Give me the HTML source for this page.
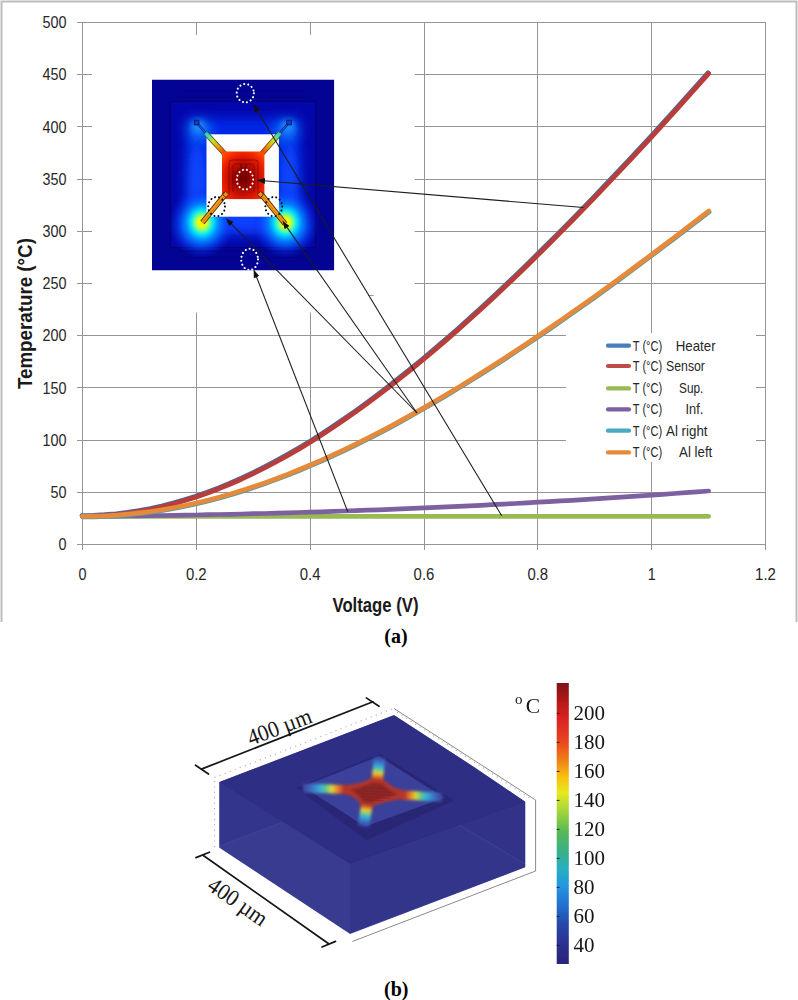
<!DOCTYPE html>
<html><head><meta charset="utf-8">
<style>
html,body{margin:0;padding:0;background:#fff;}
body{width:798px;height:1000px;overflow:hidden;font-family:"Liberation Sans",sans-serif;}
svg{display:block;}
.ax text{font-family:"Liberation Sans",sans-serif;font-size:15.6px;fill:#262626;}
.lg text{font-family:"Liberation Sans",sans-serif;font-size:14.4px;fill:#262626;}
.ser{font-family:"Liberation Serif",serif;}
</style></head><body>
<svg width="798" height="1000" viewBox="0 0 798 1000">
<defs>

<filter id="b3" x="-30%" y="-30%" width="160%" height="160%"><feGaussianBlur stdDeviation="3"/></filter>
<filter id="b6" x="-30%" y="-30%" width="160%" height="160%"><feGaussianBlur stdDeviation="6"/></filter>
<filter id="b1" x="-10%" y="-10%" width="120%" height="120%"><feGaussianBlur stdDeviation="0.6"/></filter>
<filter id="b05" x="-10%" y="-10%" width="120%" height="120%"><feGaussianBlur stdDeviation="0.45"/></filter>
<radialGradient id="hot" cx="0.5" cy="0.5" r="0.5">
<stop offset="0" stop-color="#fff000"/><stop offset="0.13" stop-color="#e8ff10"/><stop offset="0.24" stop-color="#60ffa0"/><stop offset="0.36" stop-color="#00d8ff"/><stop offset="0.52" stop-color="#0088ff" stop-opacity="0.85"/><stop offset="0.75" stop-color="#0848ff" stop-opacity="0.45"/><stop offset="1" stop-color="#0428e6" stop-opacity="0"/>
</radialGradient>
<radialGradient id="warm" cx="0.5" cy="0.5" r="0.5">
<stop offset="0" stop-color="#20b0ff"/><stop offset="0.5" stop-color="#0868ff" stop-opacity="0.8"/><stop offset="1" stop-color="#0030ff" stop-opacity="0"/>
</radialGradient>
<radialGradient id="mem" cx="0.5" cy="0.56" r="0.66">
<stop offset="0" stop-color="#740000"/><stop offset="0.3" stop-color="#980400"/><stop offset="0.55" stop-color="#cc1000"/><stop offset="0.8" stop-color="#f02400"/><stop offset="1" stop-color="#ff4800"/>
</radialGradient>
<linearGradient id="btl" gradientUnits="userSpaceOnUse" x1="224" y1="153" x2="204" y2="131">
<stop offset="0" stop-color="#f04000"/><stop offset="0.3" stop-color="#f0a000"/><stop offset="0.55" stop-color="#c8e020"/><stop offset="0.8" stop-color="#30e0c0"/><stop offset="1" stop-color="#10b0f0"/>
</linearGradient>
<linearGradient id="btr" gradientUnits="userSpaceOnUse" x1="263" y1="153" x2="282" y2="131">
<stop offset="0" stop-color="#f04000"/><stop offset="0.3" stop-color="#f0a000"/><stop offset="0.55" stop-color="#c8e020"/><stop offset="0.8" stop-color="#30e0c0"/><stop offset="1" stop-color="#10b0f0"/>
</linearGradient>
<clipPath id="insclip"><rect x="152" y="79.5" width="182.3" height="191"/></clipPath>

<linearGradient id="jet" x1="0" y1="0" x2="0" y2="1">
<stop offset="0" stop-color="#7a1414"/>
<stop offset="0.06" stop-color="#b01818"/>
<stop offset="0.12" stop-color="#d82020"/>
<stop offset="0.2" stop-color="#e84020"/>
<stop offset="0.27" stop-color="#f07a18"/>
<stop offset="0.335" stop-color="#f8c010"/>
<stop offset="0.39" stop-color="#e8e820"/>
<stop offset="0.45" stop-color="#a8d838"/>
<stop offset="0.53" stop-color="#58b858"/>
<stop offset="0.6" stop-color="#38b088"/>
<stop offset="0.66" stop-color="#28b0c0"/>
<stop offset="0.72" stop-color="#2098e0"/>
<stop offset="0.79" stop-color="#2070d0"/>
<stop offset="0.86" stop-color="#2848a8"/>
<stop offset="0.93" stop-color="#2a3090"/>
<stop offset="1" stop-color="#2a2478"/>
</linearGradient>
<filter id="b08" x="-10%" y="-10%" width="120%" height="120%"><feGaussianBlur stdDeviation="0.7"/></filter>
<filter id="b15" x="-20%" y="-20%" width="140%" height="140%"><feGaussianBlur stdDeviation="1.6"/></filter>
<linearGradient id="armT" gradientUnits="userSpaceOnUse" x1="377" y1="781" x2="379.7" y2="757.5">
<stop offset="0" stop-color="#c03a28"/><stop offset="0.1" stop-color="#c84428"/><stop offset="0.22" stop-color="#e88828"/><stop offset="0.35" stop-color="#dcd838"/><stop offset="0.47" stop-color="#64c888"/><stop offset="0.6" stop-color="#38b0d8"/><stop offset="0.83" stop-color="#3c68c0"/><stop offset="1" stop-color="#3a449c"/>
</linearGradient>
<linearGradient id="armB" gradientUnits="userSpaceOnUse" x1="367" y1="803" x2="363.8" y2="826">
<stop offset="0" stop-color="#c03a28"/><stop offset="0.1" stop-color="#c84428"/><stop offset="0.22" stop-color="#e88828"/><stop offset="0.35" stop-color="#dcd838"/><stop offset="0.47" stop-color="#64c888"/><stop offset="0.6" stop-color="#38b0d8"/><stop offset="0.83" stop-color="#3c68c0"/><stop offset="1" stop-color="#3a449c"/>
</linearGradient>
<linearGradient id="armL" gradientUnits="userSpaceOnUse" x1="347" y1="789.6" x2="303" y2="788">
<stop offset="0" stop-color="#c03a28"/><stop offset="0.1" stop-color="#c84428"/><stop offset="0.22" stop-color="#e88828"/><stop offset="0.35" stop-color="#dcd838"/><stop offset="0.47" stop-color="#64c888"/><stop offset="0.6" stop-color="#38b0d8"/><stop offset="0.83" stop-color="#3c68c0"/><stop offset="1" stop-color="#3a449c"/>
</linearGradient>
<linearGradient id="armR" gradientUnits="userSpaceOnUse" x1="402" y1="795" x2="442" y2="797.3">
<stop offset="0" stop-color="#c03a28"/><stop offset="0.1" stop-color="#c84428"/><stop offset="0.22" stop-color="#e88828"/><stop offset="0.35" stop-color="#dcd838"/><stop offset="0.47" stop-color="#64c888"/><stop offset="0.6" stop-color="#38b0d8"/><stop offset="0.83" stop-color="#3c68c0"/><stop offset="1" stop-color="#3a449c"/>
</linearGradient>
<!--DEFS-->
</defs>
<rect width="798" height="1000" fill="#fff"/>
<!-- chart frame -->
<path d="M1.5,622 L1.5,1.5 L796.5,1.5 L796.5,622" fill="none" stroke="#bdbdbd" stroke-width="2"/>
<g stroke="#959595" stroke-width="1" fill="none" shape-rendering="crispEdges">
<line x1="77" y1="544.5" x2="765.5" y2="544.5"/>
<line x1="77" y1="492.3" x2="765.5" y2="492.3"/>
<line x1="77" y1="440.1" x2="765.5" y2="440.1"/>
<line x1="77" y1="387.9" x2="765.5" y2="387.9"/>
<line x1="77" y1="335.7" x2="765.5" y2="335.7"/>
<line x1="77" y1="283.5" x2="765.5" y2="283.5"/>
<line x1="77" y1="231.3" x2="765.5" y2="231.3"/>
<line x1="77" y1="179.1" x2="765.5" y2="179.1"/>
<line x1="77" y1="126.9" x2="765.5" y2="126.9"/>
<line x1="77" y1="74.7" x2="765.5" y2="74.7"/>
<line x1="77" y1="22.5" x2="765.5" y2="22.5"/>
<line x1="82.5" y1="22.5" x2="82.5" y2="550"/>
<line x1="196.3" y1="22.5" x2="196.3" y2="550"/>
<line x1="310.2" y1="22.5" x2="310.2" y2="550"/>
<line x1="424.0" y1="22.5" x2="424.0" y2="550"/>
<line x1="537.8" y1="22.5" x2="537.8" y2="550"/>
<line x1="651.7" y1="22.5" x2="651.7" y2="550"/>
<line x1="765.5" y1="22.5" x2="765.5" y2="550"/>
</g>
<!-- white cover for picture and legend -->
<rect x="92" y="35" width="322.6" height="277.5" fill="#fff"/>
<rect x="566" y="333" width="190" height="129" fill="#fff"/>
<line x1="368" y1="295.5" x2="373.6" y2="295.5" stroke="#999" stroke-width="1"/>
<!-- curves -->
<g fill="none" stroke-linecap="round" stroke-linejoin="round" stroke-width="4.7">
<path d="M82.5,516.3 L93.9,516.1 L105.3,515.5 L116.7,514.6 L128.0,513.2 L139.4,511.4 L150.8,509.3 L162.2,506.8 L173.6,503.9 L184.9,500.6 L196.3,497.0 L207.7,493.0 L219.1,488.7 L230.5,484.0 L241.9,479.0 L253.2,473.6 L264.6,468.0 L276.0,462.0 L287.4,455.7 L298.8,449.1 L310.2,442.2 L321.6,435.0 L332.9,427.6 L344.3,419.8 L355.7,411.9 L367.1,403.6 L378.5,395.1 L389.9,386.4 L401.2,377.5 L412.6,368.3 L424.0,359.0 L435.4,349.4 L446.8,339.6 L458.2,329.7 L469.5,319.5 L480.9,309.2 L492.3,298.7 L503.7,288.0 L515.1,277.2 L526.5,266.2 L537.8,255.1 L549.2,243.8 L560.6,232.4 L572.0,220.9 L583.4,209.2 L594.8,197.4 L606.1,185.5 L617.5,173.5 L628.9,161.3 L640.3,149.1 L651.7,136.8 L663.0,124.3 L674.4,111.8 L685.8,99.1 L697.2,86.4 L708.6,73.6" stroke="#4a6a9c" transform="translate(-0.6,-0.8)"/>
<path d="M82.5,516.3 L93.9,516.1 L105.3,515.5 L116.7,514.6 L128.0,513.2 L139.4,511.4 L150.8,509.3 L162.2,506.8 L173.6,503.9 L184.9,500.6 L196.3,497.0 L207.7,493.0 L219.1,488.7 L230.5,484.0 L241.9,479.0 L253.2,473.6 L264.6,468.0 L276.0,462.0 L287.4,455.7 L298.8,449.1 L310.2,442.2 L321.6,435.0 L332.9,427.6 L344.3,419.8 L355.7,411.9 L367.1,403.6 L378.5,395.1 L389.9,386.4 L401.2,377.5 L412.6,368.3 L424.0,359.0 L435.4,349.4 L446.8,339.6 L458.2,329.7 L469.5,319.5 L480.9,309.2 L492.3,298.7 L503.7,288.0 L515.1,277.2 L526.5,266.2 L537.8,255.1 L549.2,243.8 L560.6,232.4 L572.0,220.9 L583.4,209.2 L594.8,197.4 L606.1,185.5 L617.5,173.5 L628.9,161.3 L640.3,149.1 L651.7,136.8 L663.0,124.3 L674.4,111.8 L685.8,99.1 L697.2,86.4 L708.6,73.6" stroke="#b93e3a"/>
<path d="M82.5,516.3 L93.9,516.3 L105.3,516.3 L116.7,516.3 L128.0,516.3 L139.4,516.3 L150.8,516.3 L162.2,516.3 L173.6,516.3 L184.9,516.3 L196.3,516.3 L207.7,516.3 L219.1,516.3 L230.5,516.3 L241.9,516.3 L253.2,516.3 L264.6,516.3 L276.0,516.3 L287.4,516.3 L298.8,516.3 L310.2,516.3 L321.6,516.3 L332.9,516.3 L344.3,516.3 L355.7,516.3 L367.1,516.3 L378.5,516.3 L389.9,516.3 L401.2,516.3 L412.6,516.3 L424.0,516.3 L435.4,516.3 L446.8,516.3 L458.2,516.3 L469.5,516.3 L480.9,516.3 L492.3,516.3 L503.7,516.3 L515.1,516.3 L526.5,516.3 L537.8,516.3 L549.2,516.3 L560.6,516.3 L572.0,516.3 L583.4,516.3 L594.8,516.3 L606.1,516.3 L617.5,516.3 L628.9,516.3 L640.3,516.3 L651.7,516.3 L663.0,516.3 L674.4,516.3 L685.8,516.3 L697.2,516.3 L708.6,516.3" stroke="#98b954"/>
<path d="M82.5,516.3 L93.9,516.2 L105.3,516.2 L116.7,516.1 L128.0,515.9 L139.4,515.8 L150.8,515.7 L162.2,515.5 L173.6,515.3 L184.9,515.2 L196.3,515.0 L207.7,514.7 L219.1,514.5 L230.5,514.3 L241.9,514.0 L253.2,513.7 L264.6,513.5 L276.0,513.2 L287.4,512.8 L298.8,512.5 L310.2,512.2 L321.6,511.8 L332.9,511.4 L344.3,511.0 L355.7,510.6 L367.1,510.2 L378.5,509.8 L389.9,509.4 L401.2,508.9 L412.6,508.4 L424.0,507.9 L435.4,507.4 L446.8,506.9 L458.2,506.4 L469.5,505.8 L480.9,505.3 L492.3,504.7 L503.7,504.1 L515.1,503.5 L526.5,502.9 L537.8,502.2 L549.2,501.6 L560.6,500.9 L572.0,500.3 L583.4,499.6 L594.8,498.9 L606.1,498.1 L617.5,497.4 L628.9,496.7 L640.3,495.9 L651.7,495.1 L663.0,494.3 L674.4,493.5 L685.8,492.7 L697.2,491.9 L708.6,491.0" stroke="#7d60a0"/>
<path d="M82.5,516.3 L93.9,516.2 L105.3,515.8 L116.7,515.1 L128.0,514.1 L139.4,512.9 L150.8,511.5 L162.2,509.7 L173.6,507.7 L184.9,505.5 L196.3,503.0 L207.7,500.2 L219.1,497.2 L230.5,494.0 L241.9,490.5 L253.2,486.8 L264.6,482.9 L276.0,478.7 L287.4,474.4 L298.8,469.8 L310.2,465.0 L321.6,460.1 L332.9,454.9 L344.3,449.6 L355.7,444.1 L367.1,438.4 L378.5,432.6 L389.9,426.6 L401.2,420.4 L412.6,414.1 L424.0,407.6 L435.4,401.0 L446.8,394.3 L458.2,387.4 L469.5,380.4 L480.9,373.3 L492.3,366.0 L503.7,358.7 L515.1,351.2 L526.5,343.7 L537.8,336.0 L549.2,328.3 L560.6,320.4 L572.0,312.4 L583.4,304.4 L594.8,296.3 L606.1,288.1 L617.5,279.8 L628.9,271.5 L640.3,263.0 L651.7,254.5 L663.0,246.0 L674.4,237.4 L685.8,228.7 L697.2,219.9 L708.6,211.1" stroke="#5a9aa0" transform="translate(0.5,0.7)"/>
<path d="M82.5,516.3 L93.9,516.2 L105.3,515.8 L116.7,515.1 L128.0,514.1 L139.4,512.9 L150.8,511.5 L162.2,509.7 L173.6,507.7 L184.9,505.5 L196.3,503.0 L207.7,500.2 L219.1,497.2 L230.5,494.0 L241.9,490.5 L253.2,486.8 L264.6,482.9 L276.0,478.7 L287.4,474.4 L298.8,469.8 L310.2,465.0 L321.6,460.1 L332.9,454.9 L344.3,449.6 L355.7,444.1 L367.1,438.4 L378.5,432.6 L389.9,426.6 L401.2,420.4 L412.6,414.1 L424.0,407.6 L435.4,401.0 L446.8,394.3 L458.2,387.4 L469.5,380.4 L480.9,373.3 L492.3,366.0 L503.7,358.7 L515.1,351.2 L526.5,343.7 L537.8,336.0 L549.2,328.3 L560.6,320.4 L572.0,312.4 L583.4,304.4 L594.8,296.3 L606.1,288.1 L617.5,279.8 L628.9,271.5 L640.3,263.0 L651.7,254.5 L663.0,246.0 L674.4,237.4 L685.8,228.7 L697.2,219.9 L708.6,211.1" stroke="#e58a3a"/>
</g>
<g class="ax">
<text x="66.5" y="550.1" text-anchor="end" textLength="8" lengthAdjust="spacingAndGlyphs">0</text>
<text x="66.5" y="497.9" text-anchor="end" textLength="16" lengthAdjust="spacingAndGlyphs">50</text>
<text x="66.5" y="445.7" text-anchor="end" textLength="24" lengthAdjust="spacingAndGlyphs">100</text>
<text x="66.5" y="393.5" text-anchor="end" textLength="24" lengthAdjust="spacingAndGlyphs">150</text>
<text x="66.5" y="341.3" text-anchor="end" textLength="24" lengthAdjust="spacingAndGlyphs">200</text>
<text x="66.5" y="289.1" text-anchor="end" textLength="24" lengthAdjust="spacingAndGlyphs">250</text>
<text x="66.5" y="236.9" text-anchor="end" textLength="24" lengthAdjust="spacingAndGlyphs">300</text>
<text x="66.5" y="184.7" text-anchor="end" textLength="24" lengthAdjust="spacingAndGlyphs">350</text>
<text x="66.5" y="132.5" text-anchor="end" textLength="24" lengthAdjust="spacingAndGlyphs">400</text>
<text x="66.5" y="80.3" text-anchor="end" textLength="24" lengthAdjust="spacingAndGlyphs">450</text>
<text x="66.5" y="28.1" text-anchor="end" textLength="24" lengthAdjust="spacingAndGlyphs">500</text>
<text x="82.5" y="579.8" text-anchor="middle" textLength="8.0" lengthAdjust="spacingAndGlyphs">0</text>
<text x="196.3" y="579.8" text-anchor="middle" textLength="20.8" lengthAdjust="spacingAndGlyphs">0.2</text>
<text x="310.2" y="579.8" text-anchor="middle" textLength="20.8" lengthAdjust="spacingAndGlyphs">0.4</text>
<text x="424.0" y="579.8" text-anchor="middle" textLength="20.8" lengthAdjust="spacingAndGlyphs">0.6</text>
<text x="537.8" y="579.8" text-anchor="middle" textLength="20.8" lengthAdjust="spacingAndGlyphs">0.8</text>
<text x="651.7" y="579.8" text-anchor="middle" textLength="8.0" lengthAdjust="spacingAndGlyphs">1</text>
<text x="765.5" y="579.8" text-anchor="middle" textLength="20.8" lengthAdjust="spacingAndGlyphs">1.2</text>
</g>
<text x="375.5" y="612" text-anchor="middle" font-family="Liberation Sans" font-weight="bold" font-size="19.8" fill="#1a1a1a" textLength="86" lengthAdjust="spacingAndGlyphs">Voltage (V)</text>
<text transform="translate(32.3,313.6) rotate(-90)" text-anchor="middle" font-family="Liberation Sans" font-weight="bold" font-size="20.4" fill="#1a1a1a" textLength="151" lengthAdjust="spacingAndGlyphs">Temperature (°C)</text>
<g class="lg">
<line x1="608" y1="345.7" x2="629" y2="345.7" stroke="#4a7ebb" stroke-width="4.2" stroke-linecap="round"/>
<line x1="608" y1="366.0" x2="629" y2="366.0" stroke="#be4b48" stroke-width="4.2" stroke-linecap="round"/>
<line x1="608" y1="388.4" x2="629" y2="388.4" stroke="#98b954" stroke-width="4.2" stroke-linecap="round"/>
<line x1="608" y1="409.4" x2="629" y2="409.4" stroke="#7d60a0" stroke-width="4.2" stroke-linecap="round"/>
<line x1="608" y1="430.7" x2="629" y2="430.7" stroke="#46aac5" stroke-width="4.2" stroke-linecap="round"/>
<line x1="608" y1="452.4" x2="629" y2="452.4" stroke="#e58a3a" stroke-width="4.2" stroke-linecap="round"/>

<text x="632.8" y="350.6" textLength="29.4" lengthAdjust="spacingAndGlyphs">T (°C)</text><text x="675.8" y="350.6" textLength="39.8" lengthAdjust="spacingAndGlyphs">Heater</text>
<text x="632.8" y="370.9" textLength="29.4" lengthAdjust="spacingAndGlyphs">T (°C)</text><text x="666.1" y="370.9" textLength="38.8" lengthAdjust="spacingAndGlyphs">Sensor</text>
<text x="632.8" y="393.3" textLength="29.4" lengthAdjust="spacingAndGlyphs">T (°C)</text><text x="679.0" y="393.3" textLength="24.3" lengthAdjust="spacingAndGlyphs">Sup.</text>
<text x="632.8" y="414.3" textLength="29.4" lengthAdjust="spacingAndGlyphs">T (°C)</text><text x="685.5" y="414.3" textLength="17.8" lengthAdjust="spacingAndGlyphs">Inf.</text>
<text x="632.8" y="435.6" textLength="29.4" lengthAdjust="spacingAndGlyphs">T (°C)</text><text x="666.1" y="435.6" textLength="41.4" lengthAdjust="spacingAndGlyphs">Al right</text>
<text x="632.8" y="457.3" textLength="29.4" lengthAdjust="spacingAndGlyphs">T (°C)</text><text x="679.0" y="457.3" textLength="33.3" lengthAdjust="spacingAndGlyphs">Al left</text>

</g>

<g id="inset" clip-path="url(#insclip)">
<rect x="152" y="79.5" width="182.3" height="191" fill="#030394"/>
<rect x="170.5" y="101.5" width="145" height="146" fill="#0306aa" stroke="#020270" stroke-width="1"/>
<g filter="url(#b6)">
<rect x="186" y="118" width="114" height="116" fill="#0428e6"/>
<rect x="196" y="200" width="94" height="34" fill="#0840ff"/>
<ellipse cx="199" cy="130" rx="11" ry="10" fill="#1070ff"/>
<ellipse cx="287" cy="130" rx="11" ry="10" fill="#1070ff"/>
<ellipse cx="196" cy="185" rx="9" ry="42" fill="#0848ff"/>
<ellipse cx="290" cy="185" rx="9" ry="42" fill="#0848ff"/>
<ellipse cx="201" cy="228" rx="20" ry="16" fill="#0a60ff"/>
<ellipse cx="286" cy="228" rx="20" ry="16" fill="#0a60ff"/>
</g>
<g filter="url(#b3)">
<ellipse cx="198" cy="126" rx="6" ry="6" fill="#20a0ff" opacity="0.8"/>
<ellipse cx="288" cy="126" rx="6" ry="6" fill="#20a0ff" opacity="0.8"/>
</g>
<ellipse cx="202" cy="222.5" rx="33" ry="36" fill="url(#hot)"/>
<ellipse cx="285.5" cy="222.5" rx="33" ry="36" fill="url(#hot)"/>
<!-- faint horizontal stripes top and bottom -->
<g stroke="#020274" stroke-width="0.9" opacity="0.6">
<line x1="180" y1="97" x2="306" y2="97"/><line x1="180" y1="91" x2="306" y2="91"/>
<line x1="180" y1="251" x2="306" y2="251"/><line x1="180" y1="257.5" x2="306" y2="257.5"/>
</g>
<!-- white window -->
<rect x="206.5" y="134.3" width="72.4" height="82.4" fill="#fff" filter="url(#b05)"/>
<!-- beams top (outside white: thin dark outlines) -->
<g filter="url(#b05)">
<path d="M196.6,122.6 L207,134.5" stroke="#0a2a90" stroke-width="2.4" fill="none"/>
<path d="M289,122.6 L278.6,134.5" stroke="#0a2a90" stroke-width="2.4" fill="none"/>
<path d="M196.6,122.6 L207,134.5" stroke="#1a70e0" stroke-width="1" fill="none"/>
<path d="M289,122.6 L278.6,134.5" stroke="#1a70e0" stroke-width="1" fill="none"/>
<rect x="194.3" y="120.2" width="4.6" height="4.6" fill="#1040c0" stroke="#06156a" stroke-width="0.9"/>
<rect x="286.7" y="120.2" width="4.6" height="4.6" fill="#1040c0" stroke="#06156a" stroke-width="0.9"/>
<path d="M205.5,133 L224.5,153.5" stroke="#5a4a20" stroke-width="5.4" fill="none"/>
<path d="M205.5,133 L224.5,153.5" stroke="url(#btl)" stroke-width="3.8" fill="none"/>
<path d="M280,133 L262,153.5" stroke="#5a4a20" stroke-width="5.4" fill="none"/>
<path d="M280,133 L262,153.5" stroke="url(#btr)" stroke-width="3.8" fill="none"/>
<!-- membrane -->
<rect x="222" y="151.5" width="42.4" height="47.6" fill="url(#mem)"/>
<!-- meander hints -->
<g stroke="#5a0000" stroke-width="0.7" fill="none" opacity="0.75">
<path d="M229,195 L229,163 Q229,160 232,160 L255,160 Q258,160 258,163 L258,195"/>
<path d="M233,192 L233,166 Q233,164 235,164 L252,164 Q254,164 254,166 L254,192"/>
<path d="M241,164 L241,186 M246,164 L246,186"/>
</g>
<!-- bottom beams -->
<path d="M226,193.5 L202.4,222.5" stroke="#4a2a08" stroke-width="5.4" fill="none"/>
<path d="M226,193.5 L202.4,222.5" stroke="#f79a12" stroke-width="3.6" fill="none"/>
<path d="M226.3,194 L202.9,222.2" stroke="#c06a08" stroke-width="0.7" fill="none"/>
<path d="M260.6,193.5 L285.1,223.9" stroke="#4a2a08" stroke-width="5.4" fill="none"/>
<path d="M260.6,193.5 L285.1,223.9" stroke="#f79a12" stroke-width="3.6" fill="none"/>
<path d="M260.4,194 L284.7,223.5" stroke="#c06a08" stroke-width="0.7" fill="none"/>
<rect x="223.6" y="192.3" width="4.4" height="4.4" transform="rotate(40 225.8 194.5)" fill="#f58a20" stroke="#5a2008" stroke-width="0.8"/>
<rect x="258.2" y="192.3" width="4.4" height="4.4" transform="rotate(-40 260.4 194.5)" fill="#f58a20" stroke="#5a2008" stroke-width="0.8"/>
</g>
<!-- dotted circles -->
<g fill="none" stroke-linecap="round" stroke-width="2.1" stroke-dasharray="0.01 4.05">
<ellipse cx="245.3" cy="93.2" rx="8.6" ry="9.2" stroke="#fff"/>
<ellipse cx="245" cy="179.6" rx="8.2" ry="10" stroke="#fff"/>
<ellipse cx="249.6" cy="259.4" rx="8.4" ry="10.6" stroke="#fff"/>
<ellipse cx="216.6" cy="206.6" rx="8.4" ry="9.6" stroke="#111"/>
<ellipse cx="273.8" cy="206.6" rx="8.4" ry="9.6" stroke="#111"/>
</g>
</g>


<defs><marker id="ah" markerWidth="8" markerHeight="6" refX="7.2" refY="3" orient="auto" markerUnits="userSpaceOnUse"><path d="M0,0 L8,3 L0,6 Z" fill="#111"/></marker></defs>
<g stroke="#1c1c1c" stroke-width="1.05" fill="none" marker-end="url(#ah)">
<line x1="583.4" y1="207.5" x2="257.8" y2="180.3"/>
<line x1="501.7" y1="515.8" x2="254" y2="105"/>
<line x1="347.8" y1="511.8" x2="254" y2="270.5"/>
<line x1="417" y1="413" x2="226.5" y2="219"/>
<line x1="417" y1="413" x2="283" y2="221.6"/>
</g>

<text class="ser" x="396" y="642.5" text-anchor="middle" font-weight="bold" font-size="20">(a)</text>

<g id="box3d">
<!-- gray bounding outline -->
<g stroke="#8a8a8a" stroke-width="1" fill="none" filter="url(#b05)">
<path d="M394,708.5 L535.6,800 L535.6,871 L352.4,941.5"/>
</g>
<g stroke="#b4b4b4" stroke-width="1.2" fill="none" stroke-dasharray="1.2 4.2">
<path d="M214.5,777.5 L392,709"/><path d="M214.5,781 L214.5,850"/><path d="M397,712 L531,799"/>
</g>
<g filter="url(#b05)">
<!-- faces -->
<polygon points="219.7,782.3 394,715.5 474,767.4 525,802 525,867 350.1,933.6 219.7,847.5" fill="#33368a" stroke="#33368a" stroke-width="0.6"/>
<polygon points="219.7,782.3 394,715.5 474,767.4 525,802 350.1,863.7" fill="#2f2d84" stroke="#2f2d84" stroke-width="0.5"/>
<polygon points="219.7,782.3 350.1,863.7 350.1,933.6 219.7,847.5" fill="#373b90"/>
<polygon points="350.1,863.7 525,802 525,867 350.1,933.6" fill="#33368a"/>
<!-- internal translucent edges -->
<polygon points="219.7,782.3 219.7,846 283,822" fill="#2f3086" opacity="0.45"/>
<polygon points="459,825 525,802 525,864" fill="#2f3086" opacity="0.45"/>
<g stroke="#474c9c" stroke-width="1" fill="none" opacity="0.6">
<path d="M219.7,846 L283,822"/><path d="M459,825 L525,864"/>
</g>
<!-- recess: dark walls then light membrane plane -->
<polygon points="296.3,788.1 380.3,753.8 454.2,800.2 366.5,840.3" fill="#292876"/>
<polygon points="302.6,786.4 379,756.3 444.2,797.7 365.2,826.5" fill="#3a3f9a"/>
</g>
<!-- cross -->
<g filter="url(#b15)">
<g fill="none" stroke-linecap="butt">
<path d="M377,781 L379.7,757.5" stroke="url(#armT)" stroke-width="11"/>
<path d="M367,803 L363.8,826" stroke="url(#armB)" stroke-width="11"/>
<path d="M347,789.6 L303,788" stroke="url(#armL)" stroke-width="8.5"/>
<path d="M402,795 L442,797.3" stroke="url(#armR)" stroke-width="8.5"/>
<path d="M377,781 L379.7,757.5" stroke="url(#armT)" stroke-width="11"/>
<path d="M367,803 L363.8,826" stroke="url(#armB)" stroke-width="11"/>
<path d="M347,789.6 L303,788" stroke="url(#armL)" stroke-width="8.5"/>
<path d="M402,795 L442,797.3" stroke="url(#armR)" stroke-width="8.5"/>
</g>
<path d="M342.7,785.4 Q362,784 371,778.5 L383.5,779 Q390,788 405.5,791.2 L405.3,799 Q385,800 372.7,806.6 L361.3,805.2 Q357,796 342.7,793.4 Z" fill="#b83426"/>
<path d="M350,789.3 Q364,787 372.5,782.3 L382,783 Q389,790 399,794.6 Q384,797.5 371,803.2 L363.5,802.4 Q358,795 350,789.3 Z" fill="#8c2828"/>
</g>
<g stroke="#7a2020" stroke-width="0.8" opacity="0.5" filter="url(#b05)">
<path d="M356,790.5 L392,792.5 M358,793.5 L394,795.5 M361,796.5 L390,798.3 M364,799.5 L384,800.8 M362,787.5 L388,789"/>
</g>
<!-- dimension lines -->
<g stroke="#151515" stroke-width="1.7" fill="none" filter="url(#b05)" stroke-linecap="round">
<path d="M202,768.9 L372.9,701.8"/><path d="M195.5,765.2 L208.5,774"/><path d="M366.3,697.9 L379,706.3"/>
<path d="M203,855.3 L329,944"/><path d="M196,857.6 L209.4,852.2"/><path d="M322,947 L335.5,941.4"/>
</g>
<text class="ser" transform="translate(250.7,745.7) rotate(-20.5)" font-size="23" fill="#151515" textLength="67" lengthAdjust="spacingAndGlyphs">400 µm</text>
<text class="ser" transform="translate(206.1,888.8) rotate(34.7)" font-size="23" fill="#151515" textLength="67" lengthAdjust="spacingAndGlyphs">400 µm</text>
</g>
<g id="cbar" filter="url(#b05)"><rect x="556.7" y="683" width="12.1" height="281" fill="url(#jet)"/>
<line x1="556.7" y1="713.4" x2="559.5" y2="713.4" stroke="#222" stroke-width="1"/><text class="ser" x="573.5" y="720.4" font-size="21" fill="#151515">200</text>
<line x1="556.7" y1="742.4" x2="559.5" y2="742.4" stroke="#222" stroke-width="1"/><text class="ser" x="573.5" y="749.4" font-size="21" fill="#151515">180</text>
<line x1="556.7" y1="771.4" x2="559.5" y2="771.4" stroke="#222" stroke-width="1"/><text class="ser" x="573.5" y="778.4" font-size="21" fill="#151515">160</text>
<line x1="556.7" y1="800.4" x2="559.5" y2="800.4" stroke="#222" stroke-width="1"/><text class="ser" x="573.5" y="807.4" font-size="21" fill="#151515">140</text>
<line x1="556.7" y1="829.4" x2="559.5" y2="829.4" stroke="#222" stroke-width="1"/><text class="ser" x="573.5" y="836.4" font-size="21" fill="#151515">120</text>
<line x1="556.7" y1="858.4" x2="559.5" y2="858.4" stroke="#222" stroke-width="1"/><text class="ser" x="573.5" y="865.4" font-size="21" fill="#151515">100</text>
<line x1="556.7" y1="887.4" x2="559.5" y2="887.4" stroke="#222" stroke-width="1"/><text class="ser" x="573.5" y="894.4" font-size="21" fill="#151515">80</text>
<line x1="556.7" y1="916.4" x2="559.5" y2="916.4" stroke="#222" stroke-width="1"/><text class="ser" x="573.5" y="923.4" font-size="21" fill="#151515">60</text>
<line x1="556.7" y1="945.4" x2="559.5" y2="945.4" stroke="#222" stroke-width="1"/><text class="ser" x="573.5" y="952.4" font-size="21" fill="#151515">40</text>
<text class="ser" x="515" y="703.5" font-size="15" fill="#151515">o</text><text class="ser" x="525.8" y="712.8" font-size="21.5" fill="#151515">C</text></g>
<text class="ser" x="396.2" y="995.6" text-anchor="middle" font-weight="bold" font-size="20">(b)</text>
</svg>
</body></html>
